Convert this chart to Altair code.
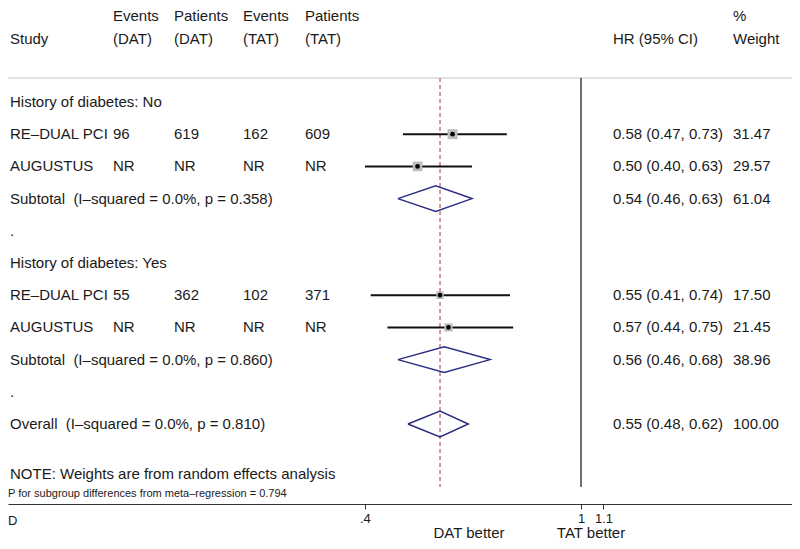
import altair as alt
import pandas as pd

FONT = "Liberation Sans"
TXT = "#1a1a1a"

# ---------------- data ----------------
labels = [
    "History of diabetes: No",
    "RE–DUAL PCI",
    "AUGUSTUS",
    "Subtotal\u00a0 (I–squared = 0.0%, p = 0.358)",
    ".",
    "History of diabetes: Yes",
    "RE–DUAL PCI",
    "AUGUSTUS",
    "Subtotal\u00a0 (I–squared = 0.0%, p = 0.860)",
    ".",
    "Overall\u00a0 (I–squared = 0.0%, p = 0.810)",
]
kind = ["group", "study", "study", "sub", "blank",
        "group", "study", "study", "sub", "blank", "overall"]
events_dat = ["", "96", "NR", "", "", "", "55", "NR", "", "", ""]
patients_dat = ["", "619", "NR", "", "", "", "362", "NR", "", "", ""]
events_tat = ["", "162", "NR", "", "", "", "102", "NR", "", "", ""]
patients_tat = ["", "609", "NR", "", "", "", "371", "NR", "", "", ""]
hr = [None, 0.58, 0.50, 0.54, None, None, 0.55, 0.57, 0.56, None, 0.55]
lo = [None, 0.47, 0.40, 0.46, None, None, 0.41, 0.44, 0.46, None, 0.48]
hi = [None, 0.73, 0.63, 0.63, None, None, 0.74, 0.75, 0.68, None, 0.62]
weight = [None, 31.47, 29.57, 61.04, None, None, 17.50, 21.45, 38.96, None, 100.00]

header_top = ["Events", "Patients", "Events", "Patients", "%"]
header_bottom = ["Study", "(DAT)", "(DAT)", "(TAT)", "(TAT)", "HR (95% CI)", "Weight"]
axis_ticks = [0.4, 1, 1.1]
note_text = "NOTE: Weights are from random effects analysis"
p_text = "P for subgroup differences from meta–regression = 0.794"
panel_letter = "D"
favours = ["DAT better", "TAT better"]

# ---------------- tables ----------------
df = pd.DataFrame({
    "row": list(range(len(labels))),
    "label": labels,
    "kind": kind,
    "ev_dat": events_dat,
    "pt_dat": patients_dat,
    "ev_tat": events_tat,
    "pt_tat": patients_tat,
    "hr": hr, "lo": lo, "hi": hi, "weight": weight,
})
df["hr_text"] = [
    f"{h:.2f} ({l:.2f}, {u:.2f})" if h is not None else ""
    for h, l, u in zip(hr, lo, hi)
]
df["wt_text"] = [f"{w:.2f}" if w is not None else "" for w in weight]

studies = df[df["kind"] == "study"].copy()
summ = df[df["kind"].isin(["sub", "overall"])].copy()

HALF = 0.4  # diamond half-height in rows
verts = []
for _, r in summ.iterrows():
    pts = [(r["lo"], 0), (r["hr"], -HALF), (r["hi"], 0), (r["hr"], HALF), (r["lo"], 0)]
    for k, (xv, dy) in enumerate(pts):
        verts.append({"grp": r["row"], "ord": k, "xv": xv, "yv": r["row"] + dy})
diam = pd.DataFrame(verts)

overall_hr = hr[-1]
ref_df = pd.DataFrame({"v": [overall_hr]})
null_df = pd.DataFrame({"v": [1.0]})
dummy = pd.DataFrame({"a": [0]})

# ---------------- scales ----------------
W, H = 784, 496
ROW0, ROWSTEP = 94.0, 32.2
xs = alt.Scale(type="log", domain=[0.08804, 2.4469], nice=False)
ys = alt.Scale(domain=[-ROW0 / ROWSTEP, (H - ROW0) / ROWSTEP], reverse=True,
               nice=False, zero=False)
xaxis = alt.Axis(values=axis_ticks, format="~g", title=None, grid=False,
                 labelExpr="replace(datum.label, '0.', '.')",
                 labelFont=FONT, labelFontSize=13, labelColor=TXT,
                 domainColor="#333333", tickColor="#333333", tickSize=5,
                 labelPadding=3, domainWidth=1)


def X(f):
    return alt.X(f, type="quantitative", scale=xs, axis=xaxis)


def X2(f):
    return alt.X2(f)


def Y(f):
    return alt.Y(f, type="quantitative", scale=ys, axis=None)


layers = []

# header separator line
layers.append(alt.Chart(dummy).mark_rule(color="#c4c4c4", strokeWidth=1).encode(
    x=alt.value(0), x2=alt.value(W), y=alt.value(70)))

# reference (overall) dashed line
layers.append(alt.Chart(ref_df).mark_rule(color="#b5545c", strokeWidth=1.2,
                                          strokeDash=[4, 3]).encode(
    x=X("v"), y=alt.value(70), y2=alt.value(479)))

# null line at HR = 1
layers.append(alt.Chart(null_df).mark_rule(color="#222222", strokeWidth=1.3).encode(
    x=X("v"), y=alt.value(70), y2=alt.value(479)))

# confidence intervals
layers.append(alt.Chart(studies).mark_rule(color="#111111", strokeWidth=2).encode(
    x=X("lo"), x2=X2("hi"), y=Y("row")))

# weight squares
layers.append(alt.Chart(studies).mark_square(color="#bdbdbd", opacity=1, filled=True).encode(
    x=X("hr"), y=Y("row"),
    size=alt.Size("weight:Q", scale=alt.Scale(domain=[0, 31.47], range=[0, 100]),
                  legend=None)))

# point estimates
layers.append(alt.Chart(studies).mark_circle(color="#000000", size=22, opacity=1).encode(
    x=X("hr"), y=Y("row")))

# summary diamonds
layers.append(alt.Chart(diam).mark_line(color="#2b2e83", strokeWidth=1.5).encode(
    x=X("xv"), y=Y("yv"), order=alt.Order("ord:Q"), detail="grp:N"))


def col_text(field, xpx, data=df):
    return alt.Chart(data).mark_text(align="left", baseline="middle", font=FONT,
                                     fontSize=15, color=TXT).encode(
        x=alt.value(xpx), y=Y("row"), text=alt.Text(field, type="nominal"))


for field, xpx in [("label", 2), ("ev_dat", 105), ("pt_dat", 166), ("ev_tat", 235),
                   ("pt_tat", 297), ("hr_text", 605), ("wt_text", 725)]:
    layers.append(col_text(field, xpx))


def fixed_text(t, xpx, ypx, size=15, align="left", baseline="middle"):
    return alt.Chart(dummy).mark_text(text=t, align=align, baseline=baseline, font=FONT,
                                      fontSize=size, color=TXT).encode(
        x=alt.value(xpx), y=alt.value(ypx))


for t, xpx in zip(header_top, [105, 166, 235, 297, 725]):
    layers.append(fixed_text(t, xpx, 8))
for t, xpx in zip(header_bottom, [2, 105, 166, 235, 297, 605, 725]):
    layers.append(fixed_text(t, xpx, 31))

layers.append(fixed_text(note_text, 2, 466))
layers.append(fixed_text(p_text, 0, 486, size=11))
layers.append(fixed_text(panel_letter, 0, 513, size=13))
layers.append(fixed_text(favours[0], 461, 525, align="center", baseline="middle"))
layers.append(fixed_text(favours[1], 583, 525, align="center", baseline="middle"))

chart = alt.layer(*layers).properties(
    width=W, height=H,
    autosize=alt.AutoSizeParams(type="none"),
    padding={"left": 0, "top": 0, "right": 0, "bottom": 533 - H},
    background="white",
).configure_view(stroke=None)

chart.save("out.html", embed_options={"renderer": "svg", "actions": False})
